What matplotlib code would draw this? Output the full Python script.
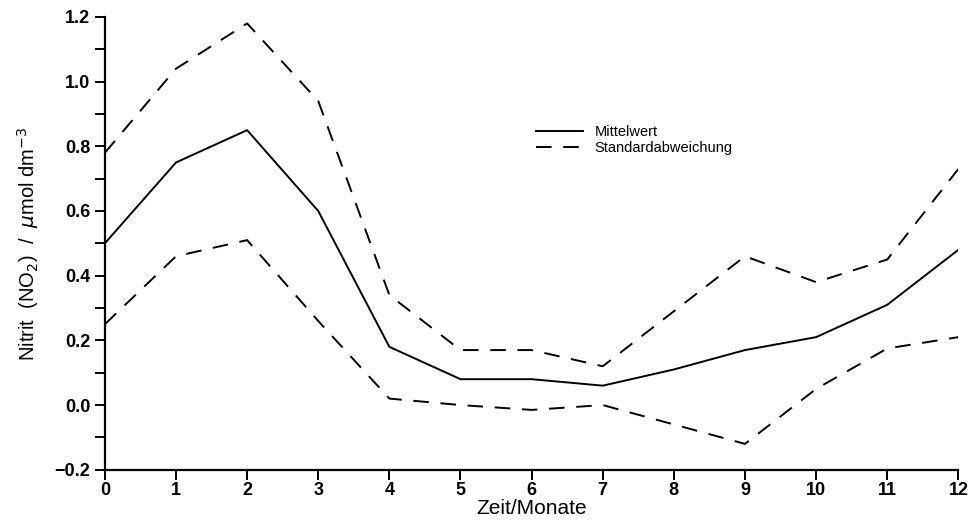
import numpy as np
import matplotlib.pyplot as plt
from matplotlib.ticker import MultipleLocator

plt.rcParams['font.family'] = ['Liberation Sans', 'DejaVu Sans']

monate = np.arange(0, 13)
mittelwert = [0.50, 0.75, 0.85, 0.60, 0.18, 0.08, 0.08, 0.06, 0.11, 0.17, 0.21, 0.31, 0.48]
std_oben = [0.78, 1.04, 1.18, 0.94, 0.34, 0.17, 0.17, 0.12, 0.29, 0.46, 0.38, 0.45, 0.73]
std_unten = [0.25, 0.46, 0.51, 0.26, 0.02, 0.00, -0.015, 0.00, -0.06, -0.12, 0.05, 0.175, 0.21]

fig = plt.figure(figsize=(9.71, 5.29), dpi=100)
ax = fig.add_axes([0.108, 0.112, 0.879, 0.856])

ax.plot(monate, mittelwert, color='black', lw=1.4, label='Mittelwert')
ax.plot(monate, std_oben, color='black', lw=1.4, ls=(0, (8, 6)), label='Standardabweichung')
ax.plot(monate, std_unten, color='black', lw=1.4, ls=(0, (8, 6)))

ax.set_xlim(0, 12)
ax.set_ylim(-0.2, 1.2)
ax.xaxis.set_major_locator(MultipleLocator(1))
ax.yaxis.set_major_locator(MultipleLocator(0.2))
ax.yaxis.set_minor_locator(MultipleLocator(0.1))
ax.set_yticklabels([f'{v:.1f}'.replace('-', '\u2212') for v in ax.get_yticks()])
ax.spines['top'].set_visible(False)
ax.spines['right'].set_visible(False)
ax.spines['left'].set_linewidth(1.6)
ax.spines['bottom'].set_linewidth(1.6)
ax.tick_params(axis='both', which='major', length=7, width=1.4, labelsize=13)
ax.tick_params(axis='x', pad=2)
ax.tick_params(axis='y', which='minor', length=7, width=1.4)
for t in ax.get_xticklabels() + ax.get_yticklabels():
    t.set_fontweight('bold')

ax.set_xlabel('Zeit/Monate', fontsize=15, labelpad=0)
ax.set_ylabel(r'Nitrit  (NO$_2$)  /  $\mu$mol dm$^{-3}$', fontsize=14.5, labelpad=10)

ax.legend(loc='upper left', bbox_to_anchor=(0.49, 0.79), frameon=False, fontsize=10.5,
          handlelength=3.2, labelspacing=0.1, handletextpad=0.8)

plt.savefig('out.png', dpi=100)
